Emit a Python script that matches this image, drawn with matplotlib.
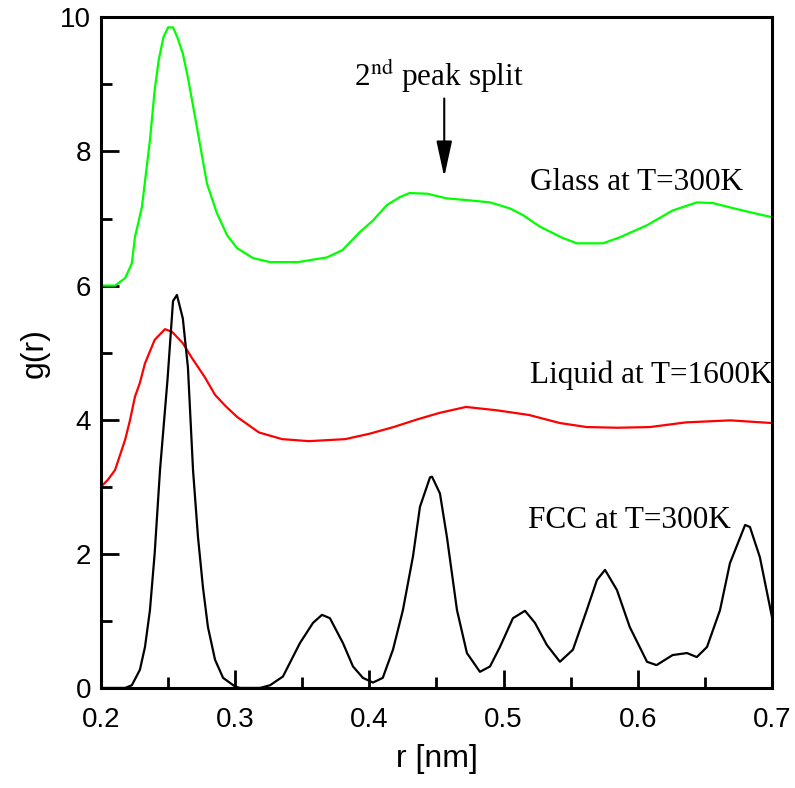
import matplotlib
matplotlib.use("Agg")
import matplotlib.pyplot as plt
from matplotlib.ticker import MultipleLocator

# glass at 300K (shifted by +6)
r_glass = [0.200, 0.2105, 0.218, 0.223, 0.2253, 0.2305, 0.2365, 0.240, 0.243, 0.2465, 0.250, 0.2537,
           0.257, 0.261, 0.2648, 0.2715, 0.279, 0.2864, 0.294, 0.3013, 0.3133, 0.326, 0.3468, 0.3684,
           0.380, 0.393, 0.4027, 0.413, 0.4228, 0.430, 0.443, 0.4578, 0.475, 0.490, 0.5048,
           0.5145, 0.527, 0.544, 0.5547, 0.574, 0.5867, 0.6069, 0.626, 0.644, 0.656, 0.674,
           0.691, 0.700]
g_glass = [6.0, 6.0, 6.11, 6.33, 6.72, 7.17, 8.17, 8.91, 9.36, 9.7, 9.85, 9.85,
           9.7, 9.46, 9.1, 8.36, 7.52, 7.08, 6.75, 6.56, 6.41, 6.35, 6.35, 6.42,
           6.53, 6.8, 6.97, 7.2, 7.32, 7.38, 7.37, 7.30, 7.27, 7.24, 7.15,
           7.05, 6.88, 6.71, 6.63, 6.63, 6.72, 6.9, 7.12, 7.24, 7.23, 7.14,
           7.06, 7.02]

# liquid at 1600K (shifted by +3)
r_liquid = [0.200, 0.205, 0.2105, 0.218, 0.2216, 0.2253, 0.229, 0.2328, 0.240, 0.2477, 0.253,
            0.261, 0.2678, 0.2775, 0.285, 0.293, 0.3015, 0.3177, 0.335, 0.355, 0.382, 0.40,
            0.418, 0.435, 0.452, 0.472, 0.495, 0.519, 0.542, 0.562, 0.585, 0.609, 0.636,
            0.669, 0.700]
g_liquid = [3.0, 3.1, 3.25, 3.7, 3.99, 4.34, 4.55, 4.84, 5.19, 5.35, 5.31,
            5.14, 4.92, 4.63, 4.37, 4.2, 4.04, 3.81, 3.71, 3.68, 3.71, 3.79,
            3.89, 4.0, 4.10, 4.19, 4.14, 4.07, 3.95, 3.89, 3.88, 3.89, 3.96,
            3.99, 3.95]

# fcc at 300K
r_fcc = [0.200, 0.218, 0.223, 0.229, 0.2328, 0.2365, 0.240, 0.244, 0.2496, 0.2537, 0.2566,
         0.261, 0.2648, 0.2686, 0.2723, 0.276, 0.2797, 0.285, 0.291, 0.300, 0.3036, 0.3185, 0.326,
         0.3356, 0.3483, 0.358, 0.3647, 0.3706, 0.3803, 0.3878, 0.3952, 0.4027, 0.410, 0.4176,
         0.425, 0.4325, 0.4377, 0.4452, 0.4467, 0.4526, 0.4578, 0.4653, 0.4727, 0.4824, 0.4899,
         0.4973, 0.507, 0.516, 0.5234, 0.5323, 0.542, 0.5517, 0.562, 0.5696, 0.5756, 0.5845,
         0.594, 0.6069, 0.614, 0.626, 0.6367, 0.644, 0.6516, 0.6613, 0.6687, 0.680, 0.6836,
         0.691, 0.700]
g_fcc = [0.0, 0.0, 0.04, 0.27, 0.61, 1.16, 2.0, 3.25, 4.6, 5.77, 5.86,
         5.51, 4.78, 3.25, 2.25, 1.5, 0.91, 0.42, 0.15, 0.02, 0.0, 0.0, 0.04,
         0.17, 0.67, 0.97, 1.09, 1.04, 0.67, 0.32, 0.15, 0.08, 0.15, 0.57,
         1.16, 1.96, 2.70, 3.14, 3.15, 2.9, 2.25, 1.16, 0.52, 0.24, 0.32,
         0.61, 1.04, 1.15, 0.97, 0.64, 0.39, 0.57, 1.16, 1.61, 1.76, 1.46,
         0.91, 0.39, 0.34, 0.49, 0.52, 0.46, 0.61, 1.16, 1.86, 2.43, 2.40,
         1.95, 1.06]

fig = plt.figure(figsize=(7.95, 7.88), dpi=100)
ax = fig.add_axes([0.127, 0.127, 0.844, 0.851])

ax.plot(r_glass, g_glass, color='#00ff00', lw=1.6)
ax.plot(r_liquid, g_liquid, color='#ff0000', lw=1.6)
ax.plot(r_fcc, g_fcc, color='black', lw=1.6)

ax.set_xlim(0.2, 0.7)
ax.set_ylim(0, 10)
ax.xaxis.set_major_locator(MultipleLocator(0.1))
ax.xaxis.set_minor_locator(MultipleLocator(0.05))
ax.yaxis.set_major_locator(MultipleLocator(2))
ax.yaxis.set_minor_locator(MultipleLocator(1))
ax.tick_params(which='both', direction='in', width=2, labelsize=20)
ax.tick_params(axis='x', pad=14)
ax.tick_params(axis='y', pad=7)
ax.tick_params(which='major', length=13)
ax.tick_params(which='minor', length=8)
for lab in ax.get_xticklabels() + ax.get_yticklabels():
    lab.set_family('Liberation Sans')
for s in ax.spines.values():
    s.set_linewidth(2.2)

ax.set_xlabel('r [nm]', fontsize=23, family='Liberation Sans', labelpad=8)
ax.set_ylabel('g(r)', fontsize=23, family='Liberation Sans', labelpad=8)

serif = dict(family='Liberation Serif', fontsize=22.5, va='baseline')
ax.text(0.5195, 7.42, 'Glass at T=300K', **serif)
ax.text(0.5195, 4.55, 'Liquid at T=1600K', **serif)
ax.text(0.5185, 2.39, 'FCC at T=300K', **serif)
ax.text(0.3885, 8.97, r'2$^{\rm nd}$ peak split', family='Liberation Serif', fontsize=22.5,
        va='baseline', math_fontfamily='stix')
ax.annotate('', xy=(0.4558, 7.62), xytext=(0.4558, 8.79),
            arrowprops=dict(arrowstyle='-|>,head_width=0.48,head_length=2.2', color='black', lw=1.5,
                            shrinkA=0, shrinkB=0))

fig.savefig('out.png', dpi=100)
